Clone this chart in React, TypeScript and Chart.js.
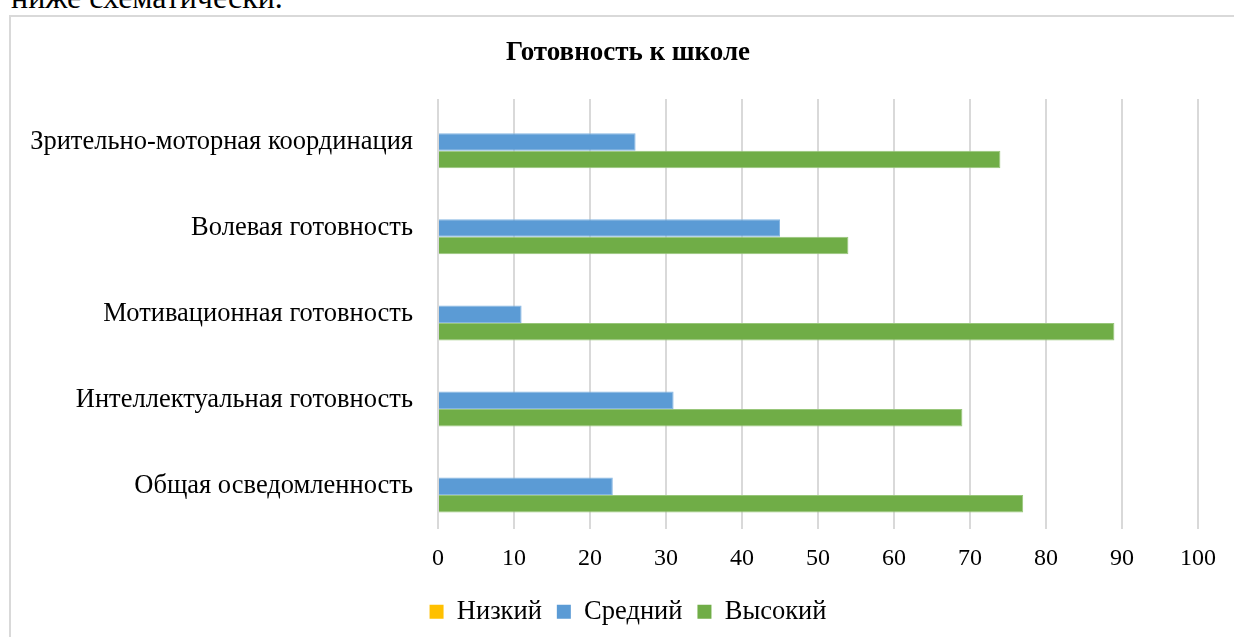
import React, { useEffect, useRef } from "react";
import { Chart, registerables } from "chart.js";

Chart.register(...registerables);

const categories = [
  "Зрительно-моторная координация",
  "Волевая готовность",
  "Мотивационная готовность",
  "Интеллектуальная готовность",
  "Общая осведомленность",
];
const lowValues = [0, 0, 0, 0, 0];
const midValues = [26, 45, 11, 31, 23];
const highValues = [74, 54, 89, 69, 77];
const seriesNames = ["Низкий", "Средний", "Высокий"];
const xTicks = [0, 10, 20, 30, 40, 50, 60, 70, 80, 90, 100];
const titleText = "Готовность к школе";
const introText = "ниже схематически.";

const FONT = "'Liberation Serif', 'Times New Roman', serif";

const unclipYLabels = {
  id: "unclipYLabels",
  afterLayout(chart: any) {
    const y = chart.scales && chart.scales.y;
    if (y) y.left = 0;
  },
};

export default function App() {
  const ref = useRef<HTMLCanvasElement | null>(null);

  useEffect(() => {
    if (!ref.current) return;
    const chart = new Chart(ref.current, {
      type: "bar",
      data: {
        labels: categories,
        datasets: [
          { label: seriesNames[0], data: lowValues, backgroundColor: "#ffc000" },
          {
            label: seriesNames[1],
            data: midValues,
            backgroundColor: "#5b9bd5",
            borderColor: "#86b6e2",
            borderWidth: 1,
          },
          {
            label: seriesNames[2],
            data: highValues,
            backgroundColor: "#70ad47",
            borderColor: "#98c67a",
            borderWidth: 1,
          },
        ],
      },
      plugins: [unclipYLabels],
      options: {
        indexAxis: "y",
        animation: false,
        responsive: false,
        maintainAspectRatio: false,
        layout: { padding: { left: 47, right: 51, top: 0, bottom: 2.1 } },
        datasets: {
          bar: { categoryPercentage: 0.61, barPercentage: 1 },
        },
        plugins: {
          title: {
            display: true,
            text: titleText,
            color: "#000",
            font: { family: FONT, size: 27, weight: "bold" },
            padding: { top: 19.8, bottom: 29.8 },
          },
          legend: {
            display: true,
            position: "bottom",
            labels: {
              color: "#000",
              font: { family: FONT, size: 26.5 },
              boxWidth: 14,
              boxHeight: 14,
              padding: 15,
              generateLabels: (c: any) =>
                c.data.datasets.map((ds: any, i: number) => ({
                  text: ds.label,
                  fillStyle: ds.backgroundColor,
                  strokeStyle: ds.backgroundColor,
                  lineWidth: 0,
                  hidden: false,
                  datasetIndex: i,
                  fontColor: "#000",
                })),
            },
          },
          tooltip: { enabled: false },
        },
        scales: {
          x: {
            min: 0,
            max: 100,
            afterBuildTicks: (scale: any) => {
              scale.ticks = xTicks.map((v) => ({ value: v }));
            },
            afterFit: (scale: any) => {
              scale.height = 54.1;
            },
            grid: { color: "#d9d9d9", lineWidth: 2, drawTicks: false },
            border: { display: false },
            ticks: {
              color: "#000",
              font: { family: FONT, size: 24 },
              padding: 15,
            },
          },
          y: {
            grid: { display: false, drawTicks: false },
            border: { display: false },
            afterFit: (scale: any) => {
              scale.width = 380;
            },
            ticks: {
              color: "#000",
              font: { family: FONT, size: 26.5 },
              padding: 25,
            },
          },
        },
      },
    });
    return () => chart.destroy();
  }, []);

  return (
    <div
      style={{
        position: "fixed",
        left: 0,
        top: 0,
        width: 1234,
        height: 637,
        overflow: "hidden",
        background: "#fff",
      }}
    >
      <div
        style={{
          position: "absolute",
          left: 11,
          top: -19,
          fontFamily: FONT,
          fontSize: 32,
          lineHeight: "32px",
          whiteSpace: "nowrap",
          color: "#000",
        }}
      >
        {introText}
      </div>
      <div
        style={{
          position: "absolute",
          left: 9,
          top: 15,
          width: 1260,
          height: 660,
          borderTop: "2px solid #d9d9d9",
          borderLeft: "2px solid #d9d9d9",
        }}
      />
      <canvas
        ref={ref}
        width={1238}
        height={620}
        style={{ position: "absolute", left: 11, top: 17, width: 1238, height: 620 }}
      />
    </div>
  );
}
